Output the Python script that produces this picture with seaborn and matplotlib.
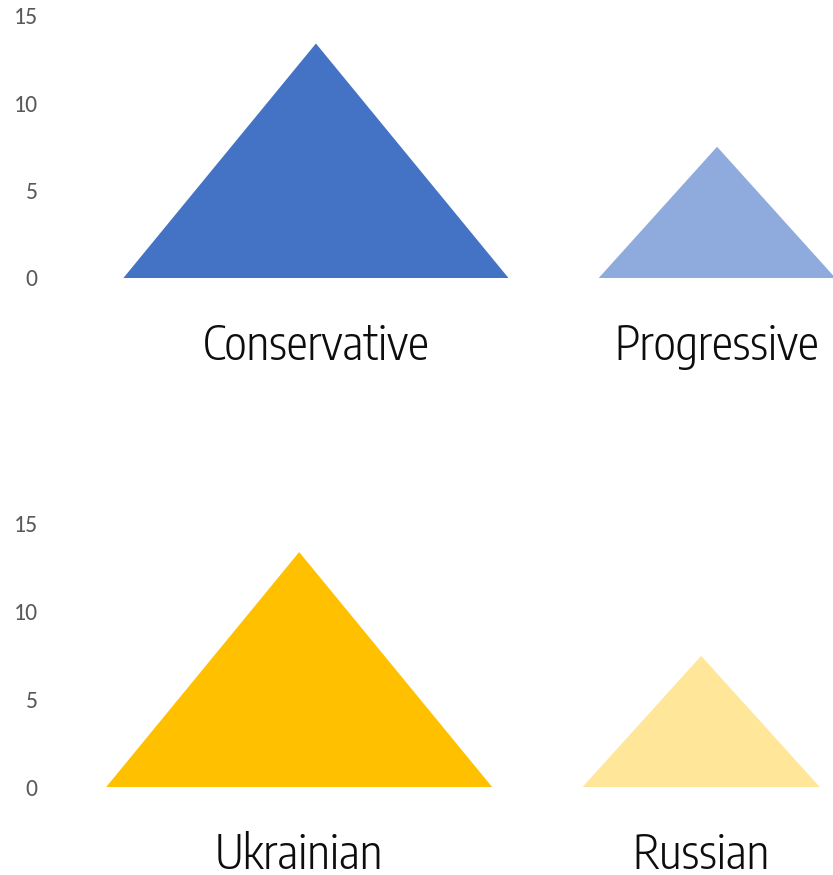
"""Triangle pictograph: Conservative/Progressive vs Ukrainian/Russian."""

import matplotlib

matplotlib.use("Agg")
import matplotlib.pyplot as plt
import pandas as pd
import seaborn as sns
from matplotlib.patches import Polygon

# Values.
TOP_GROUPS = ["Conservative", "Progressive"]
TOP_VALUES = [13.4, 7.5]
BOTTOM_GROUPS = ["Ukrainian", "Russian"]
BOTTOM_VALUES = [13.35, 7.45]
Y_TICKS = [0, 5, 10, 15]

TOP_COLORS = ["#4472C4", "#8FAADC"]
BOTTOM_COLORS = ["#FFC000", "#FFE699"]
TRIANGLE_WIDTHS = [0.96, 0.59]

LABEL_FONT = ["Encode Sans Condensed", "DejaVu Sans"]
TICK_FONT = ["Carlito", "DejaVu Sans"]


def draw_panel(ax, groups, values, colors, xlim):
    frame = pd.DataFrame({"group": groups, "value": values})
    sns.barplot(
        data=frame, x="group", y="value", hue="group", palette=colors,
        saturation=1, legend=False, width=0.8, ax=ax,
    )
    # Excel-style triangle shapes built on top of each bar's geometry.
    bars = list(ax.patches)
    for bar, width in zip(bars, TRIANGLE_WIDTHS):
        center = bar.get_x() + bar.get_width() / 2
        height = bar.get_height()
        tri = Polygon(
            [(center - width / 2, 0), (center, height), (center + width / 2, 0)],
            closed=True, facecolor=bar.get_facecolor(), edgecolor="none",
        )
        bar.remove()
        ax.add_patch(tri)

    ax.set_xlim(*xlim)
    ax.set_ylim(0, 15)
    ax.set_yticks(Y_TICKS)
    ax.set_yticklabels([str(t) for t in Y_TICKS], family=TICK_FONT,
                       fontsize=17, color="#595959")
    ax.set_xticks(range(len(groups)))
    ax.set_xticklabels(groups, family=LABEL_FONT, fontsize=34, weight=300,
                       color="#0d0d0d")
    ax.tick_params(axis="y", length=0, pad=16)
    ax.tick_params(axis="x", length=0, pad=32)
    ax.set(xlabel="", ylabel="")
    sns.despine(ax=ax, left=True, bottom=True)
    ax.grid(False)


def main() -> None:
    sns.set_theme(style="white")
    fig = plt.figure(figsize=(8.33, 8.75), dpi=100)
    ax_top = fig.add_axes([60 / 833, 1 - 278 / 875, 773 / 833, 262.5 / 875])
    ax_bottom = fig.add_axes([60 / 833, 1 - 787 / 875, 773 / 833, 264 / 875])

    draw_panel(ax_top, TOP_GROUPS, TOP_VALUES, TOP_COLORS, (-0.638, 1.289))
    draw_panel(ax_bottom, BOTTOM_GROUPS, BOTTOM_VALUES, BOTTOM_COLORS, (-0.595, 1.328))

    fig.savefig("out.png", dpi=100, facecolor="white")
    plt.close(fig)


if __name__ == "__main__":
    main()
